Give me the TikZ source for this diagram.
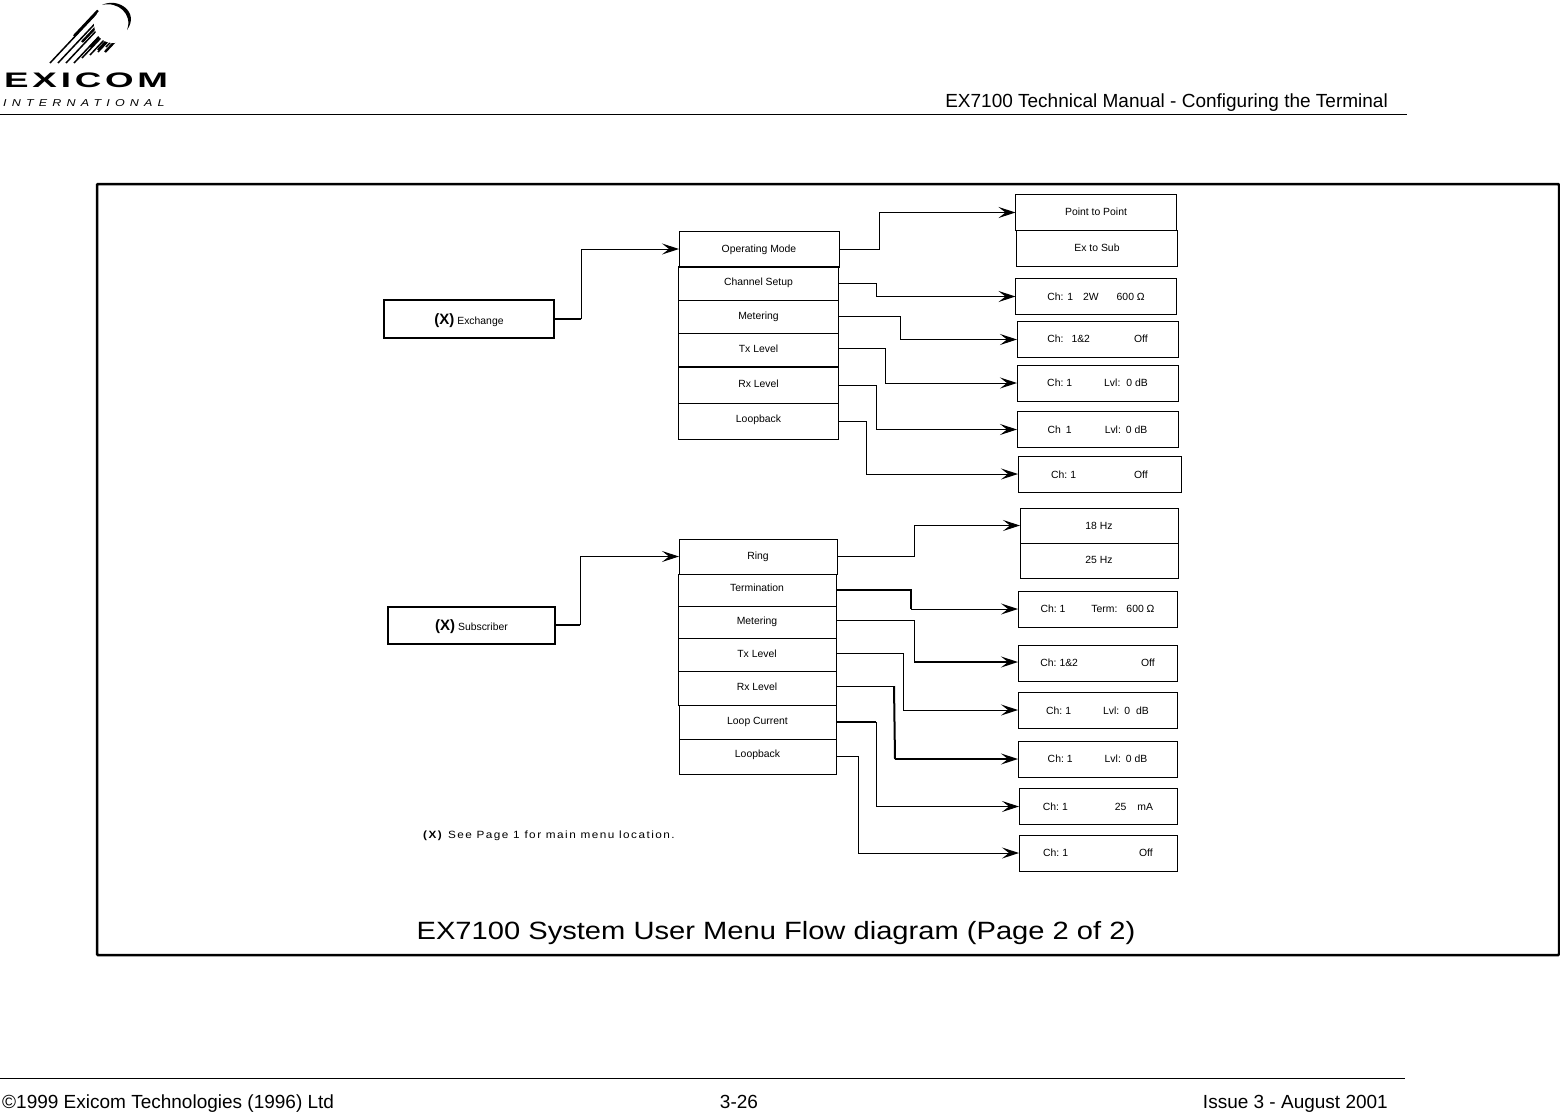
\documentclass[tikz,border=0pt]{standalone}
\usepackage{fontspec}
\setmainfont{Liberation Sans}
\newfontfamily\titlefont[FakeStretch=1.165]{Liberation Sans}
\newfontfamily\notefont[FakeStretch=1.12,LetterSpace=14]{Liberation Sans}
\newfontfamily\logofont[FakeStretch=1.75,LetterSpace=18]{Liberation Sans Bold}
\newfontfamily\logosubfont[FakeStretch=1.25,LetterSpace=52]{Liberation Sans Italic}
\usetikzlibrary{arrows.meta}
\tikzset{
  menuitem/.style={draw, line width=1pt, inner sep=0pt, outer sep=0pt, minimum width=160pt, minimum height=34pt,
                   text height=7.5pt, text depth=2pt, font=\fontsize{10.4}{12}\selectfont},
  valuebox/.style={menuitem, minimum width=161pt, minimum height=36pt, text height=9.5pt},
  rootbox/.style={menuitem, line width=2pt, minimum height=38pt, text height=12pt, text depth=2pt},
  flow/.style={line width=1pt, -{Stealth[length=17pt,width=11pt,inset=7pt]}},
  heavy/.style={line width=2pt},
  pagetext/.style={inner sep=0pt, text height=13.5pt, text depth=4pt, font=\fontsize{19}{22}\selectfont},
  streak/.style={line width=1.5pt}
}
\newcommand{\sep}[1]{\hspace*{#1pt}}
\newcommand{\rootmark}{\textbf{\fontsize{15}{14}\selectfont (X)}}
\begin{document}
\begin{tikzpicture}[x=1pt,y=-1pt]
\useasboundingbox (0,0) rectangle (1560,1112);

% logo
\foreach \sx/\sy/\dx in {50/63/47,58/63/47,66/63/45,74/63/40,82/58/32,90/55/24,98/52/16,106/47/8}
  \draw[streak] (\sx,\sy) -- ++(\dx,-\dx*50/47);
\foreach \sx/\sy/\dx in {74/36/24,82/42/22,90/47/18,98/50/14,105/52/10}
  \draw[line width=2.4pt] (\sx,\sy) -- ++(\dx,-\dx*50/47);
\fill[white] (113,24) circle (19);
\fill (102,5) .. controls (118,-3) and (140,12) .. (127,30) .. controls (133,14) and (118,1) .. (102,5);
\node[anchor=west, inner sep=0pt] (logoname) at (4,80.5) {\logofont\fontsize{21}{24}\selectfont EXICOM};
\node[anchor=west, inner sep=0pt] (logosub) at (3,103) {\logosubfont\fontsize{10}{12}\selectfont INTERNATIONAL};

% page header and footer
\node[pagetext, anchor=east] (headline) at (1388,103) {EX7100 Technical Manual - Configuring the Terminal};
\draw (0,114) -- (1407,114);
\draw (0,1078) -- (1405,1078);
\node[pagetext, anchor=west] (copyright) at (2,1104) {©1999 Exicom Technologies (1996) Ltd};
\node[pagetext] (pageno) at (739,1104) {3-26};
\node[pagetext, anchor=east] (issue) at (1388,1104) {Issue 3 - August 2001};

% frame
\draw[line width=2.5pt, rounded corners=1pt] (97,184) rectangle (1559,955);
\node[inner sep=0pt] (title) at (776,933.5) {\titlefont\fontsize{25}{28}\selectfont EX7100 System User Menu Flow diagram (Page 2 of 2)};
\node[inner sep=0pt, anchor=west] (note) at (423,836) {\notefont\fontsize{10.5}{12}\selectfont\textbf{(X)} See Page 1 for main menu location.};

% exchange menu
\node[rootbox, minimum width=170pt] (exchange) at (469,319) {\rootmark{} Exchange};
\node[menuitem, minimum height=36pt, text height=9.5pt] (exopmode) at (759,249) {Operating Mode};
\node[menuitem, text depth=4pt] (exchannel) at (758.5,283.5) {Channel Setup};
\node[menuitem, minimum height=33pt] (exmeter) at (758.5,316.5) {Metering};
\node[menuitem, minimum height=33pt] (extx) at (758.5,350) {Tx Level};
\node[menuitem, minimum height=36pt] (exrx) at (758.5,385) {Rx Level};
\node[menuitem, minimum height=36pt, text depth=4pt] (exloop) at (758.5,421) {Loopback};

\node[valuebox, text height=7.5pt] (expoint) at (1096,212.5) {Point to Point};
\node[valuebox] (exsub) at (1097,248) {Ex to Sub};
\node[valuebox] (exchval) at (1096,296.5) {Ch: 1\sep{10}2W\sep{18}600 Ω};
\node[valuebox, text height=7.5pt] (exmeterval) at (1097.5,339.5) {Ch:\sep{8}1\&2\sep{44}Off};
\node[valuebox] (extxval) at (1097.5,383) {Ch:\sep{3}1\sep{32}Lvl:\sep{6}0 dB};
\node[valuebox] (exrxval) at (1097.5,429.5) {Ch\sep{5}1\sep{33}Lvl:\sep{5}0 dB};
\node[valuebox, minimum width=163pt, text height=11.5pt] (exloopval) at (1099.5,474) {Ch:\sep{3}1\sep{58}Off};

\draw[heavy] (exchange.east) -- (581,319);
\draw[flow] (581,319) |- (exopmode.west);
\draw[flow] (exopmode.east) -- ++(40,0) |- (expoint.west);
\draw[flow] (exchannel.east) -- ++(38,0) |- (exchval.west);
\draw[flow] (exmeter.east) -- ++(62,0) |- (exmeterval.west);
\draw[flow] ([yshift=2pt]extx.east) -- ++(47,0) |- (extxval.west);
\draw[flow] (exrx.east) -- ++(38,0) |- (exrxval.west);
\draw[flow] (exloop.east) -- ++(28,0) |- (exloopval.west);

% subscriber menu
\node[rootbox, minimum width=167pt, minimum height=37pt] (subscriber) at (471.5,625) {\rootmark{} Subscriber};
\node[menuitem, minimum width=158pt, minimum height=35pt] (suring) at (758,556.5) {Ring};
\node[menuitem, minimum width=158pt, minimum height=32pt, text depth=4pt] (suterm) at (757,590) {Termination};
\node[menuitem, minimum width=158pt, minimum height=32pt] (sumeter) at (757,622) {Metering};
\node[menuitem, minimum width=158pt, minimum height=33pt] (sutx) at (757,654.5) {Tx Level};
\node[menuitem, minimum width=158pt] (surx) at (757,688) {Rx Level};
\node[menuitem, minimum width=157pt] (suloopcur) at (757.5,722) {Loop Current};
\node[menuitem, minimum width=157pt, minimum height=35pt, text depth=6pt] (suloop) at (757.5,756.5) {Loopback};

\node[valuebox, minimum width=158pt, minimum height=35pt] (su18) at (1099,525.5) {18 Hz};
\node[valuebox, minimum width=158pt, minimum height=35pt, text height=7.5pt] (su25) at (1099,560.5) {25 Hz};
\node[valuebox, minimum width=159pt] (sutermval) at (1097.5,609) {Ch:\sep{3}1\sep{26}Term:\sep{9}600 Ω};
\node[valuebox, minimum width=159pt] (sumeterval) at (1097.5,663) {Ch:\sep{3}1\&2\sep{63}Off};
\node[valuebox, minimum width=159pt, text height=11.5pt] (sutxval) at (1097.5,710) {Ch:\sep{3}1\sep{32}Lvl:\sep{5}0\sep{6}dB};
\node[valuebox, minimum width=159pt] (surxval) at (1097.5,759) {Ch:\sep{3}1\sep{32}Lvl:\sep{5}0 dB};
\node[valuebox, minimum width=158pt] (suloopcurval) at (1098,806.5) {Ch:\sep{3}1\sep{47}25\sep{11}mA};
\node[valuebox, minimum width=158pt] (suloopval) at (1098,853) {Ch:\sep{3}1\sep{71}Off};

\coordinate (subend) at (580,625);
\coordinate (sutermbend) at (911,609);
\coordinate (sumeterbend) at (914,662);
\coordinate (surxbend) at (895,759);
\coordinate (suloopcurbend) at (876,722);

\draw[heavy] (subscriber.east) -- (subend);
\draw[flow] (subend) |- (suring.west);
\draw[flow] (suring.east) -- ++(77,0) |- (su18.west);
\draw[heavy] (suterm.east) -| (sutermbend);
\draw[flow] (sutermbend) -- (sutermval.west);
\draw ([yshift=2pt]sumeter.east) -| (sumeterbend);
\draw[flow, line width=2pt] (sumeterbend) -- (sumeterval.west |- sumeterbend);
\draw[flow] ([yshift=1.5pt]sutx.east) -- ++(67,0) |- (sutxval.west);
\draw ([yshift=2pt]surx.east) -- ++(58,0) coordinate (surxtop);
\draw[heavy] (surxtop) -- (surxbend);
\draw[flow, line width=2pt] (surxbend) -- (surxval.west);
\draw[heavy] (suloopcur.east) -- (suloopcurbend);
\draw[flow] (suloopcurbend) |- (suloopcurval.west);
\draw[flow] (suloop.east) -- ++(22,0) |- (suloopval.west);
\end{tikzpicture}
\end{document}
